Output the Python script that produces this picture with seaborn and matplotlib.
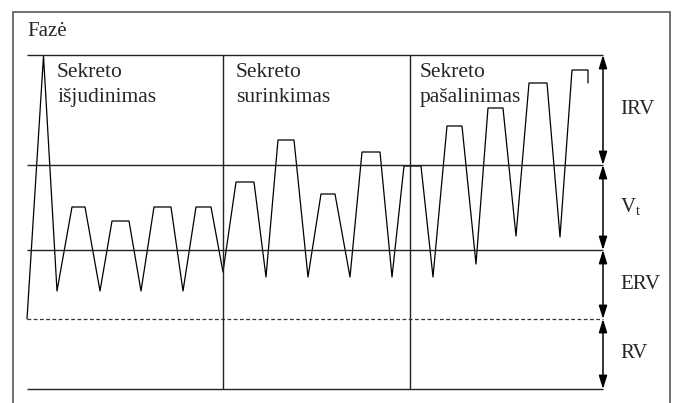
import numpy as np
import pandas as pd
import matplotlib
matplotlib.use("Agg")
import matplotlib.pyplot as plt
from matplotlib.patches import Rectangle
import seaborn as sns

# Datos: curva de volumen pulmonar (tiempo, volumen)
tiempo = [0, 16.5, 30, 45, 58, 73, 85, 102, 114, 127, 144, 156, 169, 184, 196,
          209, 227, 239, 251, 267, 281, 294, 308, 323, 335, 353, 365, 377, 394, 406,
          420, 435, 449, 461, 476, 489, 502, 520, 533, 545, 561, 561]
volumen = [70, 333, 98, 182, 182, 98, 168, 168, 98, 182, 182, 98, 182, 182, 117,
           207, 207, 112, 249, 249, 112, 195, 195, 112, 237, 237, 112, 223, 223, 112,
           263, 263, 125, 281, 281, 153, 306, 306, 152, 319, 319, 306]

# Niveles de volumen (líneas horizontales) y límites de fases
niveles = [0, 139, 224, 334]
nivel_rv = 70
limites_fase = [196, 383]
t_max = 576

fases = ["Sekreto\nišjudinimas", "Sekreto\nsurinkimas", "Sekreto\npašalinimas"]
inicio_fases = [30, 209, 393]

etiquetas_vol = ["IRV", "V$_\\mathrm{t}$", "ERV", "RV"]
limites_vol = [(224, 334), (139, 224), (70, 139), (0, 70)]

sns.set_style("white")
plt.rcParams['font.family'] = ['Liberation Serif', 'DejaVu Serif']
plt.rcParams['mathtext.fontset'] = 'custom'
plt.rcParams['mathtext.rm'] = 'Liberation Serif'

W, H = 676, 403
fig = plt.figure(figsize=(W / 100, H / 100), dpi=100)
ax = fig.add_axes([27 / W, 14 / H, 576 / W, 334 / H])
ax.set_xlim(0, t_max)
ax.set_ylim(0, 334)
ax.axis('off')

# Marco exterior
fig.patches.append(Rectangle((12.5 / W, -0.1), 657 / W, 0.1 + (H - 11.5) / H,
                             transform=fig.transFigure, fill=False,
                             edgecolor='#666666', lw=1.3))

df = pd.DataFrame({'tiempo': tiempo, 'volumen': volumen})
sns.lineplot(data=df, x='tiempo', y='volumen', sort=False, estimator=None,
             color='black', lw=0.9, ax=ax)
for ln in ax.lines:
    ln.set_clip_on(False)

ax.hlines(niveles, 0, t_max, colors='#222222', lw=1.0, clip_on=False)
ax.hlines(nivel_rv, 0, t_max, colors='#333333', lw=0.9, linestyles=(0, (3, 2)),
          clip_on=False)
ax.vlines(limites_fase, 0, 334, colors='#222222', lw=1.0, clip_on=False)

ax.text(0, 358, "Fazė", fontsize=15, va='center', ha='left')
for txt, t0 in zip(fases, inicio_fases):
    ax.text(t0, 326, txt, fontsize=15.5, va='top', ha='left', linespacing=1.45)

for txt, (lo, hi) in zip(etiquetas_vol, limites_vol):
    ax.annotate('', xy=(t_max, lo), xytext=(t_max, hi),
                arrowprops=dict(arrowstyle='<|-|>,head_length=0.8,head_width=0.25',
                                color='black', lw=1.1, shrinkA=0, shrinkB=0),
                annotation_clip=False)
    ax.text(593, (lo + hi) / 2, txt, fontsize=15, va='center', ha='left')

fig.savefig('out.png', dpi=100)
